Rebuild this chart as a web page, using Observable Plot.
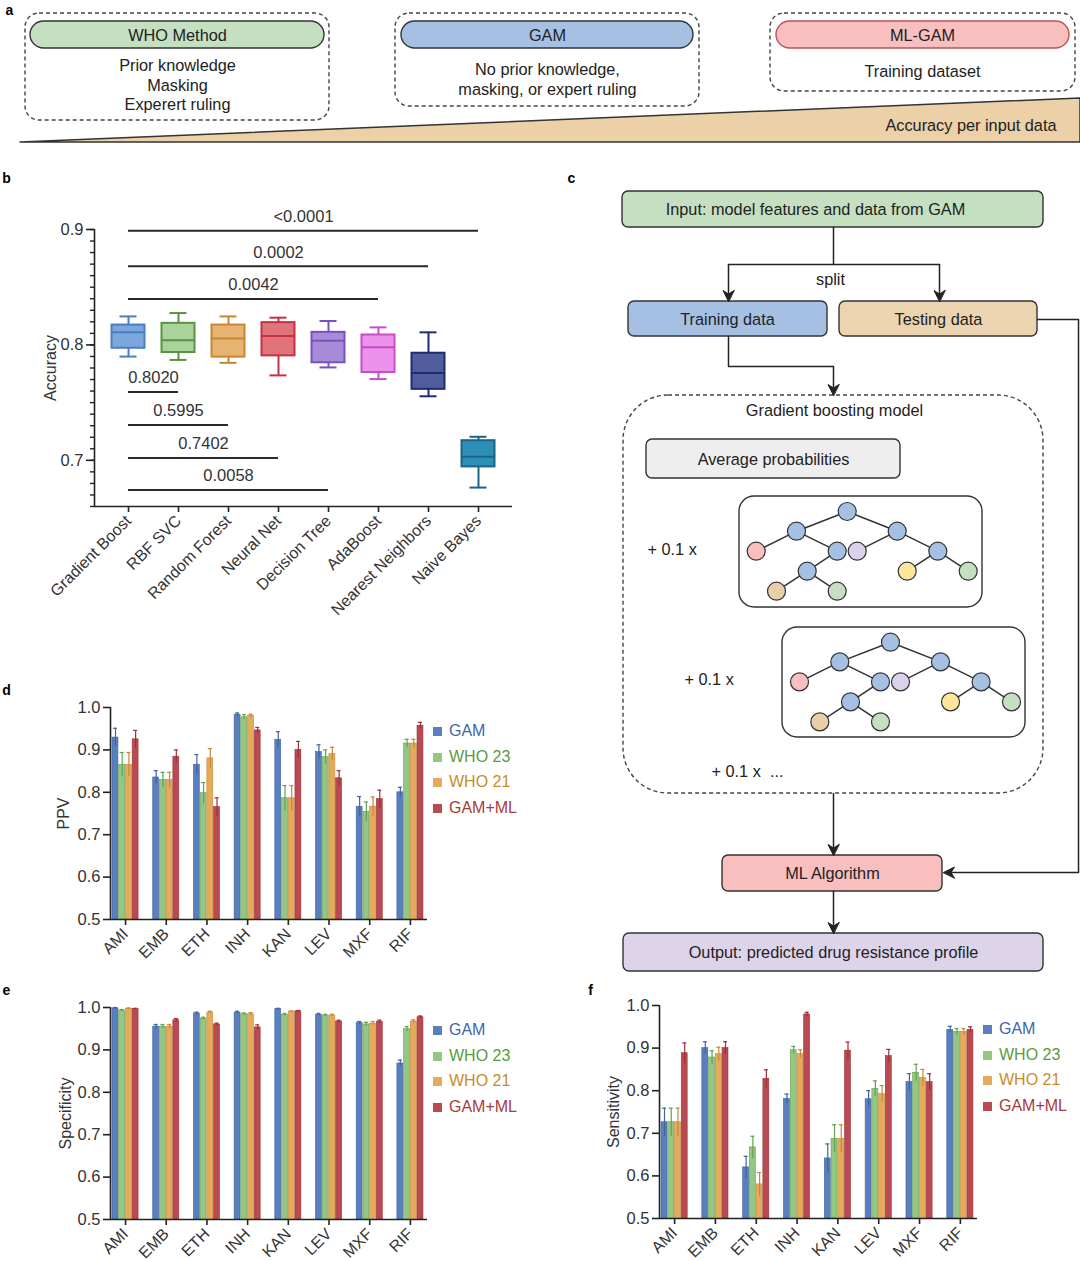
<!DOCTYPE html>
<html><head><meta charset="utf-8">
<script src="https://cdn.jsdelivr.net/npm/d3@7"></script>
<script src="https://cdn.jsdelivr.net/npm/@observablehq/plot@0.6"></script>
<style>
body{margin:0;background:#fff;font-family:"Liberation Sans",Arial,sans-serif;}
#page{position:relative;width:1080px;height:1261px;overflow:hidden;background:#fff;}
#page svg{position:absolute;max-width:none;}
.legend{position:absolute;font-size:16px;line-height:25.7px;font-family:"Liberation Sans",Arial,sans-serif;}
.legend .sw{display:inline-block;width:9px;height:9px;margin-right:7px;vertical-align:0px;}
</style></head><body><div id="page"></div>
<script>
const FONT = "Liberation Sans, Arial, sans-serif";

// ---------- Panel b data ----------
const models = ["Gradient Boost","RBF SVC","Random Forest","Neural Net","Decision Tree","AdaBoost","Nearest Neighbors","Naive Bayes"];
const accMin = [0.7899,0.7870,0.7845,0.7736,0.7805,0.7704,0.7555,0.6764];
const accQ1  = [0.7971,0.7934,0.7894,0.7905,0.7845,0.7761,0.7615,0.6943];
const accMed = [0.8109,0.8040,0.8055,0.8078,0.8037,0.7980,0.7756,0.7032];
const accQ3  = [0.8172,0.8187,0.8172,0.8193,0.8109,0.8086,0.7928,0.7170];
const accMax = [0.8247,0.8276,0.8247,0.8236,0.8207,0.8152,0.8109,0.7204];
const modelFill   = ["#7ba7dd","#a8d39b","#e6b373","#e2737a","#a68bd9","#ec92ec","#515e9e","#2b8fb6"];
const modelStroke = ["#4a7dc4","#5a9142","#c8872f","#c43143","#7a52bf","#c84bc8","#1e2b73","#1c6485"];
const accTicks = [0.7,0.8,0.9];
const sigFrom  = ["Gradient Boost","Gradient Boost","Gradient Boost","Gradient Boost","Gradient Boost","Gradient Boost","Gradient Boost"];
const sigTo    = ["Naive Bayes","Nearest Neighbors","AdaBoost","RBF SVC","Random Forest","Neural Net","Decision Tree"];
const sigY     = [0.8989,0.8681,0.8397,0.7592,0.7307,0.7020,0.6744];
const sigLabel = ["<0.0001","0.0002","0.0042","0.8020","0.5995","0.7402","0.0058"];

// ---------- Panels d, e, f data ----------
const drugs = ["AMI","EMB","ETH","INH","KAN","LEV","MXF","RIF"];
const methods = ["GAM","WHO 23","WHO 21","GAM+ML"];
const methodFill = ["#5a7fbe","#93c783","#e5ab5d","#b94a52"];
const methodErr  = ["#41649f","#66a052","#c48a39","#9c3039"];
const methodText = ["#3e66ad","#5b9a3a","#c98b27","#a83a3a"];
const barTicks = [0.5,0.6,0.7,0.8,0.9,1.0];

const ppvGAM   = [0.929,0.835,0.865,0.983,0.924,0.895,0.766,0.800];
const ppvWHO23 = [0.865,0.829,0.798,0.977,0.786,0.883,0.754,0.915];
const ppvWHO21 = [0.865,0.829,0.880,0.980,0.786,0.890,0.766,0.915];
const ppvML    = [0.925,0.884,0.765,0.946,0.900,0.833,0.784,0.957];
const ppvGAMErr   = [0.022,0.016,0.024,0.004,0.019,0.017,0.024,0.012];
const ppvWHO23Err = [0.029,0.018,0.025,0.006,0.030,0.017,0.023,0.010];
const ppvWHO21Err = [0.029,0.018,0.023,0.004,0.030,0.016,0.023,0.010];
const ppvMLErr    = [0.021,0.016,0.022,0.007,0.020,0.018,0.021,0.008];

const specGAM   = [0.998,0.955,0.986,0.988,0.996,0.983,0.963,0.868];
const specWHO23 = [0.993,0.955,0.974,0.984,0.983,0.981,0.960,0.949];
const specWHO21 = [0.997,0.955,0.988,0.984,0.990,0.981,0.962,0.967];
const specML    = [0.996,0.970,0.960,0.953,0.991,0.967,0.966,0.977];
const specGAMErr   = [0.002,0.005,0.003,0.003,0.002,0.003,0.004,0.008];
const specWHO23Err = [0.002,0.005,0.003,0.003,0.003,0.003,0.005,0.006];
const specWHO21Err = [0.002,0.005,0.003,0.004,0.002,0.003,0.005,0.004];
const specMLErr    = [0.002,0.004,0.003,0.006,0.002,0.003,0.004,0.003];

const sensGAM   = [0.726,0.900,0.620,0.781,0.641,0.780,0.820,0.943];
const sensWHO23 = [0.726,0.878,0.667,0.895,0.687,0.804,0.842,0.938];
const sensWHO21 = [0.726,0.886,0.580,0.886,0.687,0.792,0.830,0.938];
const sensML    = [0.888,0.900,0.828,0.979,0.894,0.881,0.820,0.943];
const sensGAMErr   = [0.033,0.015,0.026,0.011,0.034,0.020,0.020,0.008];
const sensWHO23Err = [0.033,0.016,0.026,0.009,0.033,0.019,0.020,0.008];
const sensWHO21Err = [0.033,0.016,0.028,0.010,0.033,0.020,0.020,0.008];
const sensMLErr    = [0.024,0.015,0.021,0.005,0.020,0.016,0.020,0.007];

// ---------- Diagram layout (panels a, c) ----------
const DASH = "4,3";
const diagBoxes = [
  {x1:25,x2:329,y1:13,y2:120,fill:"none",stroke:"#444",rx:14,dash:DASH},
  {x1:30,x2:324,y1:21,y2:48,fill:"#c5e0c0",stroke:"#333",rx:13.5},
  {x1:395,x2:699,y1:13,y2:106,fill:"none",stroke:"#444",rx:14,dash:DASH},
  {x1:401,x2:693,y1:21,y2:48,fill:"#a6c0e4",stroke:"#333",rx:13.5},
  {x1:770,x2:1075,y1:13,y2:91,fill:"none",stroke:"#444",rx:14,dash:DASH},
  {x1:776,x2:1069,y1:21,y2:48,fill:"#f9bfbf",stroke:"#b85454",rx:13.5},
  {x1:622,x2:1043,y1:191,y2:227,fill:"#c5e0c0",stroke:"#333",rx:6},
  {x1:628,x2:827,y1:301,y2:336,fill:"#a6c0e4",stroke:"#333",rx:6},
  {x1:839,x2:1037,y1:301,y2:336,fill:"#ecd4b0",stroke:"#333",rx:6},
  {x1:623,x2:1043,y1:395,y2:793,fill:"none",stroke:"#444",rx:45,dash:DASH},
  {x1:646,x2:900,y1:439,y2:478,fill:"#eeeeee",stroke:"#333",rx:6},
  {x1:739,x2:982,y1:496,y2:607,fill:"none",stroke:"#333",rx:15},
  {x1:782,x2:1025,y1:627,y2:737,fill:"none",stroke:"#333",rx:15},
  {x1:722,x2:942,y1:855,y2:891,fill:"#f9bfbf",stroke:"#333",rx:6},
  {x1:623,x2:1043,y1:933,y2:971,fill:"#ddd4ea",stroke:"#333",rx:6}
];
const diagTexts = [
  {x:177,y:35,t:"WHO Method",a:"middle"},
  {x:177,y:65,t:"Prior knowledge",a:"middle"},
  {x:177,y:85,t:"Masking",a:"middle"},
  {x:177,y:104,t:"Experert ruling",a:"middle"},
  {x:547,y:35,t:"GAM",a:"middle"},
  {x:547,y:69,t:"No prior knowledge,",a:"middle"},
  {x:547,y:89,t:"masking, or expert ruling",a:"middle"},
  {x:922,y:35,t:"ML-GAM",a:"middle"},
  {x:922,y:71,t:"Training dataset",a:"middle"},
  {x:1056,y:125,t:"Accuracy per input data",a:"end"},
  {x:815,y:209,t:"Input: model features and data from GAM",a:"middle"},
  {x:830,y:279,t:"split",a:"middle"},
  {x:727,y:319,t:"Training data",a:"middle"},
  {x:938,y:319,t:"Testing data",a:"middle"},
  {x:834,y:410,t:"Gradient boosting model",a:"middle"},
  {x:773,y:459,t:"Average probabilities",a:"middle"},
  {x:647,y:549,t:"+ 0.1 x",a:"start"},
  {x:684,y:679,t:"+ 0.1 x",a:"start"},
  {x:711,y:771,t:"+ 0.1 x  ...",a:"start"},
  {x:832,y:873,t:"ML Algorithm",a:"middle"},
  {x:833,y:952,t:"Output: predicted drug resistance profile",a:"middle"}
];
const panelLabels = [
  {x:9,y:10,t:"a"},{x:6,y:178,t:"b"},{x:571,y:178,t:"c"},
  {x:6,y:690,t:"d"},{x:6,y:990,t:"e"},{x:590,y:990,t:"f"}
];
const connectors = [
  {id:1,pts:[[833,227],[833,264]]},
  {id:2,pts:[[728,264],[939,264]]},
  {id:3,pts:[[728,264],[728,296]]},
  {id:4,pts:[[939,264],[939,296]]},
  {id:5,pts:[[728,336],[728,366],[833,366],[833,390]]},
  {id:6,pts:[[1037,319],[1078,319],[1078,872],[947,872]]},
  {id:7,pts:[[833,793],[833,850]]},
  {id:8,pts:[[833,891],[833,928]]}
];
const arrowHeads = [
  {x:728,y:301,dir:"down"},{x:939,y:301,dir:"down"},{x:833,y:395,dir:"down"},
  {x:943,y:872,dir:"left"},{x:833,y:855,dir:"down"},{x:833,y:933,dir:"down"}
];
const wedge = [{x:20,top:142,bottom:142},{x:1080,top:98,bottom:142}];
const nodeColor = {blue:"#a6c0e4",pink:"#f9bfbf",purple:"#d9d2ea",yellow:"#fde59c",green:"#c5e0c0",tan:"#e8cfa8"};
const treeNodes = [
  {id:"r",x:846.7,y:511,c:"blue"},{id:"a",x:796,y:530.7,c:"blue"},{id:"b",x:896.7,y:530.7,c:"blue"},
  {id:"p",x:755.7,y:550.7,c:"pink"},{id:"c",x:836.7,y:550.7,c:"blue"},{id:"u",x:856.7,y:550.7,c:"purple"},
  {id:"d",x:937.3,y:550.7,c:"blue"},{id:"e",x:806.7,y:570.7,c:"blue"},{id:"y",x:906.7,y:570.7,c:"yellow"},
  {id:"g",x:967.7,y:570.7,c:"green"},{id:"t",x:776,y:590.7,c:"tan"},{id:"h",x:836.7,y:590.7,c:"green"}
];
const treeEdges = [["r","a"],["r","b"],["a","p"],["a","c"],["b","u"],["b","d"],["c","e"],["d","y"],["d","g"],["e","t"],["e","h"]];
const treeOffsets = [[0,0],[43.3,130.7]];

const page = document.getElementById("page");
function place(el, left, top){ el.style.left = left+"px"; el.style.top = top+"px"; page.appendChild(el); }

// ---------- Diagram plot ----------
{
  const nodes = [], edges = [];
  const byId = Object.fromEntries(treeNodes.map(n=>[n.id,n]));
  treeOffsets.forEach(([ox,oy],k)=>{
    treeNodes.forEach(n=>nodes.push({x:n.x+ox,y:n.y+oy,fill:nodeColor[n.c]}));
    treeEdges.forEach(([s,t])=>edges.push({x1:byId[s].x+ox,y1:byId[s].y+oy,x2:byId[t].x+ox,y2:byId[t].y+oy}));
  });
  const linePts = connectors.flatMap(c=>c.pts.map(p=>({id:c.id,x:p[0],y:p[1]})));
  const headPts = arrowHeads.flatMap((h,i)=>{
    const s = h.dir==="down"
      ? [[0,0],[-5.5,-11],[0,-7.5],[5.5,-11]]
      : [[0,0],[11,-5.5],[7.5,0],[11,5.5]];
    return s.map(p=>({id:i,x:h.x+p[0],y:h.y+p[1]}));
  });
  const marks = [
    Plot.area(wedge,{x1:"x",y1:"top",y2:"bottom",fill:"#ecd0a8",stroke:"#333",strokeWidth:1.5}),
    ...diagBoxes.map(b=>Plot.rect([b],{x1:"x1",x2:"x2",y1:"y1",y2:"y2",fill:b.fill,stroke:b.stroke,strokeWidth:1.4,rx:b.rx,strokeDasharray:b.dash||null})),
    Plot.line(linePts,{x:"x",y:"y",z:"id",stroke:"#222",strokeWidth:1.5}),
    Plot.line(headPts,{x:"x",y:"y",z:"id",stroke:"#222",fill:"#222",strokeWidth:1,curve:"linear-closed"}),
    Plot.link(edges,{x1:"x1",y1:"y1",x2:"x2",y2:"y2",stroke:"#333",strokeWidth:1.5}),
    Plot.dot(nodes,{x:"x",y:"y",r:9,fill:"fill",stroke:"#333",strokeWidth:1.2}),
    ...diagTexts.map(t=>Plot.text([t],{x:"x",y:"y",text:"t",textAnchor:t.a,fontSize:16.3,fill:"#222"})),
    Plot.text(panelLabels,{x:"x",y:"y",text:"t",fontSize:14,fontWeight:"bold",fill:"#000"})
  ];
  const svg = Plot.plot({
    width:1080,height:1261,margin:0,
    style:{background:"transparent",fontFamily:FONT},
    x:{domain:[0,1080],range:[0,1080],axis:null},
    y:{domain:[0,1261],range:[0,1261],axis:null},
    color:{type:"identity"},
    marks
  });
  place(svg,0,0);
}

// ---------- Panel b ----------
{
  const rows = models.map((m,i)=>({i,min:accMin[i],q1:accQ1[i],med:accMed[i],q3:accQ3[i],max:accMax[i],fill:modelFill[i],stroke:modelStroke[i]}));
  const sig = sigTo.map((t,k)=>({a:models.indexOf(sigFrom[k]),b:models.indexOf(t),y:sigY[k],label:sigLabel[k]}));
  const HW = 0.33, CW = 0.17, X0 = -0.68, X1 = 7.68, Y0 = 0.66;
  const minor = d3.ticks(0.66,0.9,24);
  const svg = Plot.plot({
    width:530,height:450,marginLeft:94,marginRight:18,marginTop:39,marginBottom:134,
    style:{background:"transparent",fontFamily:FONT,fontSize:"16px",color:"#222"},
    x:{domain:[X0,X1],axis:null},
    y:{domain:[Y0,0.9],axis:null},
    color:{type:"identity"},
    marks:[
      Plot.ruleX(rows,{x:"i",y1:"min",y2:"q1",stroke:"stroke",strokeWidth:2}),
      Plot.ruleX(rows,{x:"i",y1:"q3",y2:"max",stroke:"stroke",strokeWidth:2}),
      Plot.ruleY(rows,{y:"min",x1:d=>d.i-CW,x2:d=>d.i+CW,stroke:"stroke",strokeWidth:2}),
      Plot.ruleY(rows,{y:"max",x1:d=>d.i-CW,x2:d=>d.i+CW,stroke:"stroke",strokeWidth:2}),
      Plot.rect(rows,{x1:d=>d.i-HW,x2:d=>d.i+HW,y1:"q1",y2:"q3",fill:"fill",stroke:"stroke",strokeWidth:2}),
      Plot.ruleY(rows,{y:"med",x1:d=>d.i-HW,x2:d=>d.i+HW,stroke:"stroke",strokeWidth:2}),
      Plot.ruleY(sig,{y:"y",x1:"a",x2:"b",stroke:"#2a2a2a",strokeWidth:2}),
      Plot.text(sig,{x:d=>(d.a+d.b)/2,y:"y",text:"label",dy:-14,fontSize:16.5,fill:"#333"}),
      Plot.ruleX([X0],{stroke:"#222",strokeWidth:1.6}),
      Plot.ruleY([Y0],{stroke:"#222",strokeWidth:1.6}),
      Plot.axisY({ticks:accTicks,tickFormat:".1f",tickSize:8,strokeWidth:1.6,fontSize:16.5,fill:"#333",label:null}),
      Plot.axisY({ticks:minor,tickSize:4,strokeWidth:1.4,text:null,label:null}),
      Plot.axisX({ticks:models.map((d,i)=>i),tickFormat:i=>models[i],tickRotate:-45,tickSize:6,strokeWidth:1.6,fontSize:16,fill:"#333",label:null}),
      Plot.text(["Accuracy"],{frameAnchor:"left",textAnchor:"middle",text:d=>d,rotate:-90,dx:-44,fontSize:16,fill:"#333"})
    ]
  });
  place(svg,0,190);
}

// ---------- Bar charts ----------
function barChart(vals, errs, o){
  const BW = 0.165, BASE = 0.5, X0 = -0.37, X1 = 7.42;
  const rows = [];
  drugs.forEach((d,i)=>methods.forEach((m,k)=>{
    const xc = i + (k-1.5)*BW;
    rows.push({xc,x1:xc-BW/2,x2:xc+BW/2,v:vals[k][i],e:errs[k][i],fill:methodFill[k],stroke:methodErr[k]});
  }));
  return Plot.plot({
    width:o.width,height:o.height,marginLeft:o.ml,marginRight:o.mr,marginTop:o.mt,marginBottom:o.mb,
    style:{background:"transparent",fontFamily:FONT,fontSize:"16px",color:"#222"},
    x:{domain:[X0,X1],axis:null},
    y:{domain:[BASE,1],axis:null},
    color:{type:"identity"},
    marks:[
      Plot.rect(rows,{x1:"x1",x2:"x2",y1:()=>BASE,y2:"v",fill:"fill",stroke:"stroke",strokeWidth:0.6,insetLeft:0.4,insetRight:0.4}),
      Plot.ruleX(rows,{x:"xc",y1:d=>d.v-d.e,y2:d=>d.v+d.e,stroke:"stroke",strokeWidth:1.2}),
      Plot.ruleY(rows,{y:d=>d.v+d.e,x1:d=>d.xc-0.05,x2:d=>d.xc+0.05,stroke:"stroke",strokeWidth:1.2}),
      Plot.ruleX([X0],{stroke:"#222",strokeWidth:1.6}),
      Plot.ruleY([BASE],{stroke:"#222",strokeWidth:1.6}),
      Plot.axisY({ticks:barTicks,tickFormat:".1f",tickSize:7,strokeWidth:1.6,fontSize:16.5,fill:"#333",label:null}),
      Plot.axisX({ticks:drugs.map((d,i)=>i),tickFormat:i=>drugs[i],tickRotate:-45,tickSize:6,strokeWidth:1.6,fontSize:16,fill:"#333",label:null}),
      Plot.text([o.label],{frameAnchor:"left",textAnchor:"middle",text:d=>d,rotate:-90,dx:-o.lo,fontSize:16,fill:"#333"})
    ]
  });
}
function legend(left, top){
  const div = document.createElement("div");
  div.className = "legend";
  methods.forEach((m,k)=>{
    const row = document.createElement("div");
    row.innerHTML = `<span class="sw" style="background:${methodFill[k]}"></span><span style="color:${methodText[k]}">${m}</span>`;
    div.appendChild(row);
  });
  place(div,left,top);
}
place(barChart([ppvGAM,ppvWHO23,ppvWHO21,ppvML],[ppvGAMErr,ppvWHO23Err,ppvWHO21Err,ppvMLErr],
  {width:540,height:280,ml:110,mr:113,mt:17,mb:51,label:"PPV",lo:47}),0,690);
legend(433,718);
place(barChart([specGAM,specWHO23,specWHO21,specML],[specGAMErr,specWHO23Err,specWHO21Err,specMLErr],
  {width:540,height:271,ml:110,mr:113,mt:17,mb:42,label:"Specificity",lo:45}),0,990);
legend(433,1017);
place(barChart([sensGAM,sensWHO23,sensWHO21,sensML],[sensGAMErr,sensWHO23Err,sensWHO21Err,sensMLErr],
  {width:390,height:271,ml:69,mr:3,mt:15,mb:43,label:"Sensitivity",lo:46}),590,990);
legend(983,1016);
</script></body></html>
